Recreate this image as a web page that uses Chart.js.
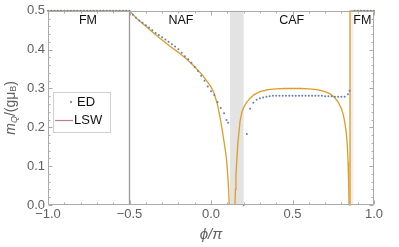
<!DOCTYPE html>
<html>
<head>
<meta charset="utf-8">
<script src="https://cdn.jsdelivr.net/npm/chart.js@4.4.0/dist/chart.umd.min.js"></script>
<style>
  html, body { margin: 0; padding: 0; background: #fff; }
  canvas { display: block; }
</style>
</head>
<body>
<canvas id="myChart" width="399" height="247"></canvas>
<script>
// ---- data ----
const xTickValues = [-1, -0.5, 0, 0.5, 1]
const yTickValues = [0, 0.1, 0.2, 0.3, 0.4, 0.5]

// ED (exact diagonalisation) points, per phase
const edFmLeftPhi = [-1.00, -0.98, -0.96, -0.94, -0.92, -0.90, -0.88, -0.86, -0.84, -0.82,
  -0.80, -0.78, -0.76, -0.74, -0.72, -0.70, -0.68, -0.66, -0.64, -0.62,
  -0.60, -0.58, -0.56, -0.54, -0.52, -0.50]
const edFmLeftM = [0.5, 0.5, 0.5, 0.5, 0.5, 0.5, 0.5, 0.5, 0.5, 0.5,
  0.5, 0.5, 0.5, 0.5, 0.5, 0.5, 0.5, 0.5, 0.5, 0.5,
  0.5, 0.5, 0.5, 0.5, 0.5, 0.5]

const edNafPhi = [-0.48, -0.46, -0.44, -0.42, -0.40, -0.38, -0.36, -0.34, -0.32, -0.30,
  -0.28, -0.26, -0.24, -0.22, -0.20, -0.18, -0.16, -0.14, -0.12, -0.10,
  -0.08, -0.06, -0.04, -0.02, 0.00, 0.02, 0.04, 0.06, 0.08, 0.095, 0.105]
const edNafM = [0.490, 0.482, 0.475, 0.469, 0.463, 0.457, 0.450, 0.443, 0.438, 0.432,
  0.426, 0.420, 0.414, 0.408, 0.401, 0.392, 0.383, 0.375, 0.366, 0.355,
  0.345, 0.333, 0.320, 0.305, 0.293, 0.283, 0.265, 0.250, 0.236, 0.219, 0.212]

const edGapPhi = [0.20, 0.22]
const edGapM = [0.0, 0.183]

const edCafPhi = [0.24, 0.26, 0.28, 0.30, 0.32, 0.34, 0.36, 0.38, 0.40, 0.42,
  0.44, 0.46, 0.48, 0.50, 0.52, 0.54, 0.56, 0.58, 0.60, 0.62,
  0.64, 0.66, 0.68, 0.70, 0.72, 0.74, 0.76, 0.78, 0.80, 0.82,
  0.84, 0.85]
const edCafM = [0.248, 0.263, 0.271, 0.275, 0.277, 0.279, 0.280, 0.281, 0.281, 0.281,
  0.281, 0.281, 0.281, 0.281, 0.281, 0.281, 0.281, 0.281, 0.281, 0.281,
  0.281, 0.281, 0.281, 0.280, 0.280, 0.280, 0.279, 0.279, 0.279, 0.279,
  0.285, 0.294]

const edFmRightPhi = [0.88, 0.90, 0.92, 0.94, 0.96, 0.98, 1.00]
const edFmRightM = [0.5, 0.5, 0.5, 0.5, 0.5, 0.5, 0.5]

// LSW (linear spin wave) curves, per branch
const lswFmLeftPhi = [-1.0, -0.5]
const lswFmLeftM = [0.5, 0.5]

const lswNafPhi = [-0.5, -0.47, -0.45, -0.40, -0.35, -0.30, -0.25, -0.20, -0.15, -0.10,
  -0.05, 0.00, 0.02, 0.04, 0.05, 0.06, 0.07, 0.08, 0.09, 0.096,
  0.103, 0.108, 0.112]
const lswNafM = [0.5, 0.487, 0.478, 0.460, 0.442, 0.425, 0.408, 0.393, 0.376, 0.356,
  0.333, 0.304, 0.287, 0.258, 0.238, 0.215, 0.190, 0.163, 0.135, 0.114,
  0.075, 0.040, 0.0]

const lswCafPhi = [0.147, 0.150, 0.153, 0.158, 0.165, 0.178, 0.190, 0.205, 0.220, 0.240,
  0.260, 0.300, 0.350, 0.400, 0.450, 0.550, 0.600, 0.650, 0.700, 0.730,
  0.760, 0.780, 0.800, 0.812, 0.822, 0.830, 0.836, 0.841, 0.844, 0.847]
const lswCafM = [0.0, 0.040, 0.075, 0.114, 0.160, 0.215, 0.240, 0.255, 0.265, 0.275,
  0.283, 0.292, 0.297, 0.299, 0.300, 0.300, 0.299, 0.297, 0.292, 0.286,
  0.276, 0.265, 0.248, 0.232, 0.210, 0.185, 0.156, 0.110, 0.060, 0.0]

const lswFmRightPhi = [0.847, 0.853, 0.853, 1.0]
const lswFmRightM = [0.0, 0.0, 0.5, 0.5]

const transitionPhi = [-0.5, -0.5]
const transitionM = [0.0, 0.5]

// shaded phi intervals
const shadedBands = [[0.117, 0.200], [0.848, 0.873]]

const regionNames = ['FM', 'NAF', 'CAF', 'FM']
const regionPhi = [-0.755, -0.184, 0.495, 0.928]
const regionM = 0.475

// ---- styling ----
const BLUE = '#5e81b5'
const ORANGE = '#e09c24'
const FRAME = '#aaaaaa'
const LABEL = '#606060'
const FONT = '"Liberation Sans", Arial, sans-serif'

const toPoints = (xs, ys) => xs.map((v, i) => ({ x: v, y: ys[i] }))

function edSet(xs, ys) {
    return {
        data: toPoints(xs, ys), showLine: false, pointRadius: 1.0, pointBorderWidth: 0,
        pointBackgroundColor: BLUE, order: 0, clip: 4
    }
}
function lineSet(xs, ys, color) {
    return {
        data: toPoints(xs, ys), showLine: true, pointRadius: 0, borderColor: color,
        borderWidth: 1.3, tension: 0, order: 1, clip: 4
    }
}

const bandsPlugin = {
    id: 'bands',
    beforeDatasetsDraw(chart) {
        const { ctx, chartArea: a, scales: { x } } = chart
        ctx.save()
        shadedBands.forEach((b, i) => {
            ctx.fillStyle = i === 0 ? '#e3e3e3' : '#efefef'
            const x0 = x.getPixelForValue(b[0])
            const x1 = x.getPixelForValue(b[1])
            ctx.fillRect(x0, a.top, x1 - x0, a.bottom - a.top)
        })
        ctx.restore()
    }
}

const framePlugin = {
    id: 'frame',
    afterDatasetsDraw(chart) {
        const { ctx, chartArea: a, scales: { x, y } } = chart
        const L = Math.round(a.left) + 0.5, R = Math.round(a.right) - 0.5
        const T = Math.round(a.top) + 0.5, B = Math.round(a.bottom) - 0.5
        ctx.save()
        ctx.strokeStyle = FRAME
        ctx.lineWidth = 1
        ctx.beginPath()
        ctx.rect(L, T, R - L, B - T)
        // x ticks every 0.1, major every 0.5
        for (let i = -10; i <= 10; i++) {
            const px = Math.round(x.getPixelForValue(i / 10)) + 0.5
            const len = i % 5 === 0 ? 4 : 2
            ctx.moveTo(px, B); ctx.lineTo(px, B - len)
            ctx.moveTo(px, T); ctx.lineTo(px, T + len)
        }
        // y ticks every 0.02, major every 0.1
        for (let i = 0; i <= 25; i++) {
            const py = Math.round(y.getPixelForValue(i * 0.02)) + 0.5
            const len = i % 5 === 0 ? 4 : 2
            ctx.moveTo(L, py); ctx.lineTo(L + len, py)
            ctx.moveTo(R, py); ctx.lineTo(R - len, py)
        }
        ctx.stroke()

        // phase names
        ctx.fillStyle = '#111'
        ctx.font = '12.5px ' + FONT
        ctx.textAlign = 'center'
        ctx.textBaseline = 'middle'
        regionNames.forEach((n, i) => {
            ctx.fillText(n, x.getPixelForValue(regionPhi[i]), y.getPixelForValue(regionM))
        })
        ctx.restore()
    },
    afterDraw(chart) {
        const { ctx, chartArea: a } = chart
        ctx.save()
        // y axis title m_Q/(g mu_B)
        ctx.translate(11, (a.top + a.bottom) / 2)
        ctx.rotate(-Math.PI / 2)
        const runs = [
            { t: 'm', f: 'italic 14px ' + FONT, dy: 0 },
            { t: 'Q', f: 'italic 9px ' + FONT, dy: 3 },
            { t: '/(gμ', f: '14px ' + FONT, dy: 0 },
            { t: 'B', f: '9px ' + FONT, dy: 3 },
            { t: ')', f: '14px ' + FONT, dy: 0 }
        ]
        let w = 0
        runs.forEach(r => { ctx.font = r.f; r.w = ctx.measureText(r.t).width; w += r.w })
        let cx = -w / 2
        ctx.fillStyle = LABEL
        ctx.textBaseline = 'middle'
        runs.forEach(r => { ctx.font = r.f; ctx.fillText(r.t, cx, r.dy); cx += r.w })
        ctx.restore()

        // legend box
        ctx.save()
        ctx.fillStyle = '#fff'
        ctx.strokeStyle = '#d0d0d0'
        ctx.fillRect(53, 92, 57, 40)
        ctx.strokeRect(53.5, 92.5, 57, 40)
        ctx.fillStyle = BLUE
        ctx.beginPath(); ctx.arc(71, 102, 1.1, 0, Math.PI * 2); ctx.fill()
        ctx.strokeStyle = '#c57890'
        ctx.lineWidth = 1.2
        ctx.beginPath(); ctx.moveTo(55, 120.5); ctx.lineTo(73, 120.5); ctx.stroke()
        ctx.fillStyle = '#111'
        ctx.font = '13px ' + FONT
        ctx.textBaseline = 'middle'
        ctx.fillText('ED', 77, 102)
        ctx.fillText('LSW', 74, 120)
        ctx.restore()
    }
}

const ctx = document.getElementById('myChart')
new Chart(ctx, {
    type: 'scatter',
    data: {
        datasets: [
            edSet(edFmLeftPhi, edFmLeftM),
            edSet(edNafPhi, edNafM),
            edSet(edGapPhi, edGapM),
            edSet(edCafPhi, edCafM),
            edSet(edFmRightPhi, edFmRightM),
            lineSet(lswFmLeftPhi, lswFmLeftM, ORANGE),
            lineSet(lswNafPhi, lswNafM, ORANGE),
            lineSet(lswCafPhi, lswCafM, ORANGE),
            lineSet(lswFmRightPhi, lswFmRightM, ORANGE),
            lineSet(transitionPhi, transitionM, '#999999')
        ]
    },
    options: {
        responsive: false,
        animation: false,
        devicePixelRatio: 1,
        layout: { padding: { left: 0, right: 25, top: 7, bottom: 0 } },
        plugins: { legend: { display: false }, tooltip: { enabled: false } },
        scales: {
            x: {
                type: 'linear', min: -1, max: 1,
                grid: { display: false, drawTicks: false },
                border: { display: false },
                afterBuildTicks: s => { s.ticks = xTickValues.map(v => ({ value: v })) },
                ticks: {
                    autoSkip: false, maxRotation: 0, padding: 2, color: LABEL,
                    font: { family: FONT, size: 13 },
                    callback: v => (v < 0 ? '−' : '') + Math.abs(v).toFixed(1)
                },
                title: {
                    display: true, text: 'ϕ/π', color: LABEL,
                    font: { family: FONT, size: 15, style: 'italic' },
                    padding: { top: 0, bottom: 3 }
                },
                afterFit: s => { s.height = 42 }
            },
            y: {
                type: 'linear', min: 0, max: 0.5,
                grid: { display: false, drawTicks: false },
                border: { display: false },
                afterBuildTicks: s => { s.ticks = yTickValues.map(v => ({ value: v })) },
                ticks: {
                    padding: 3, color: LABEL,
                    font: { family: FONT, size: 13 },
                    callback: v => v.toFixed(1)
                },
                afterFit: s => { s.width = 48 }
            }
        }
    },
    plugins: [bandsPlugin, framePlugin]
})
</script>
</body>
</html>
